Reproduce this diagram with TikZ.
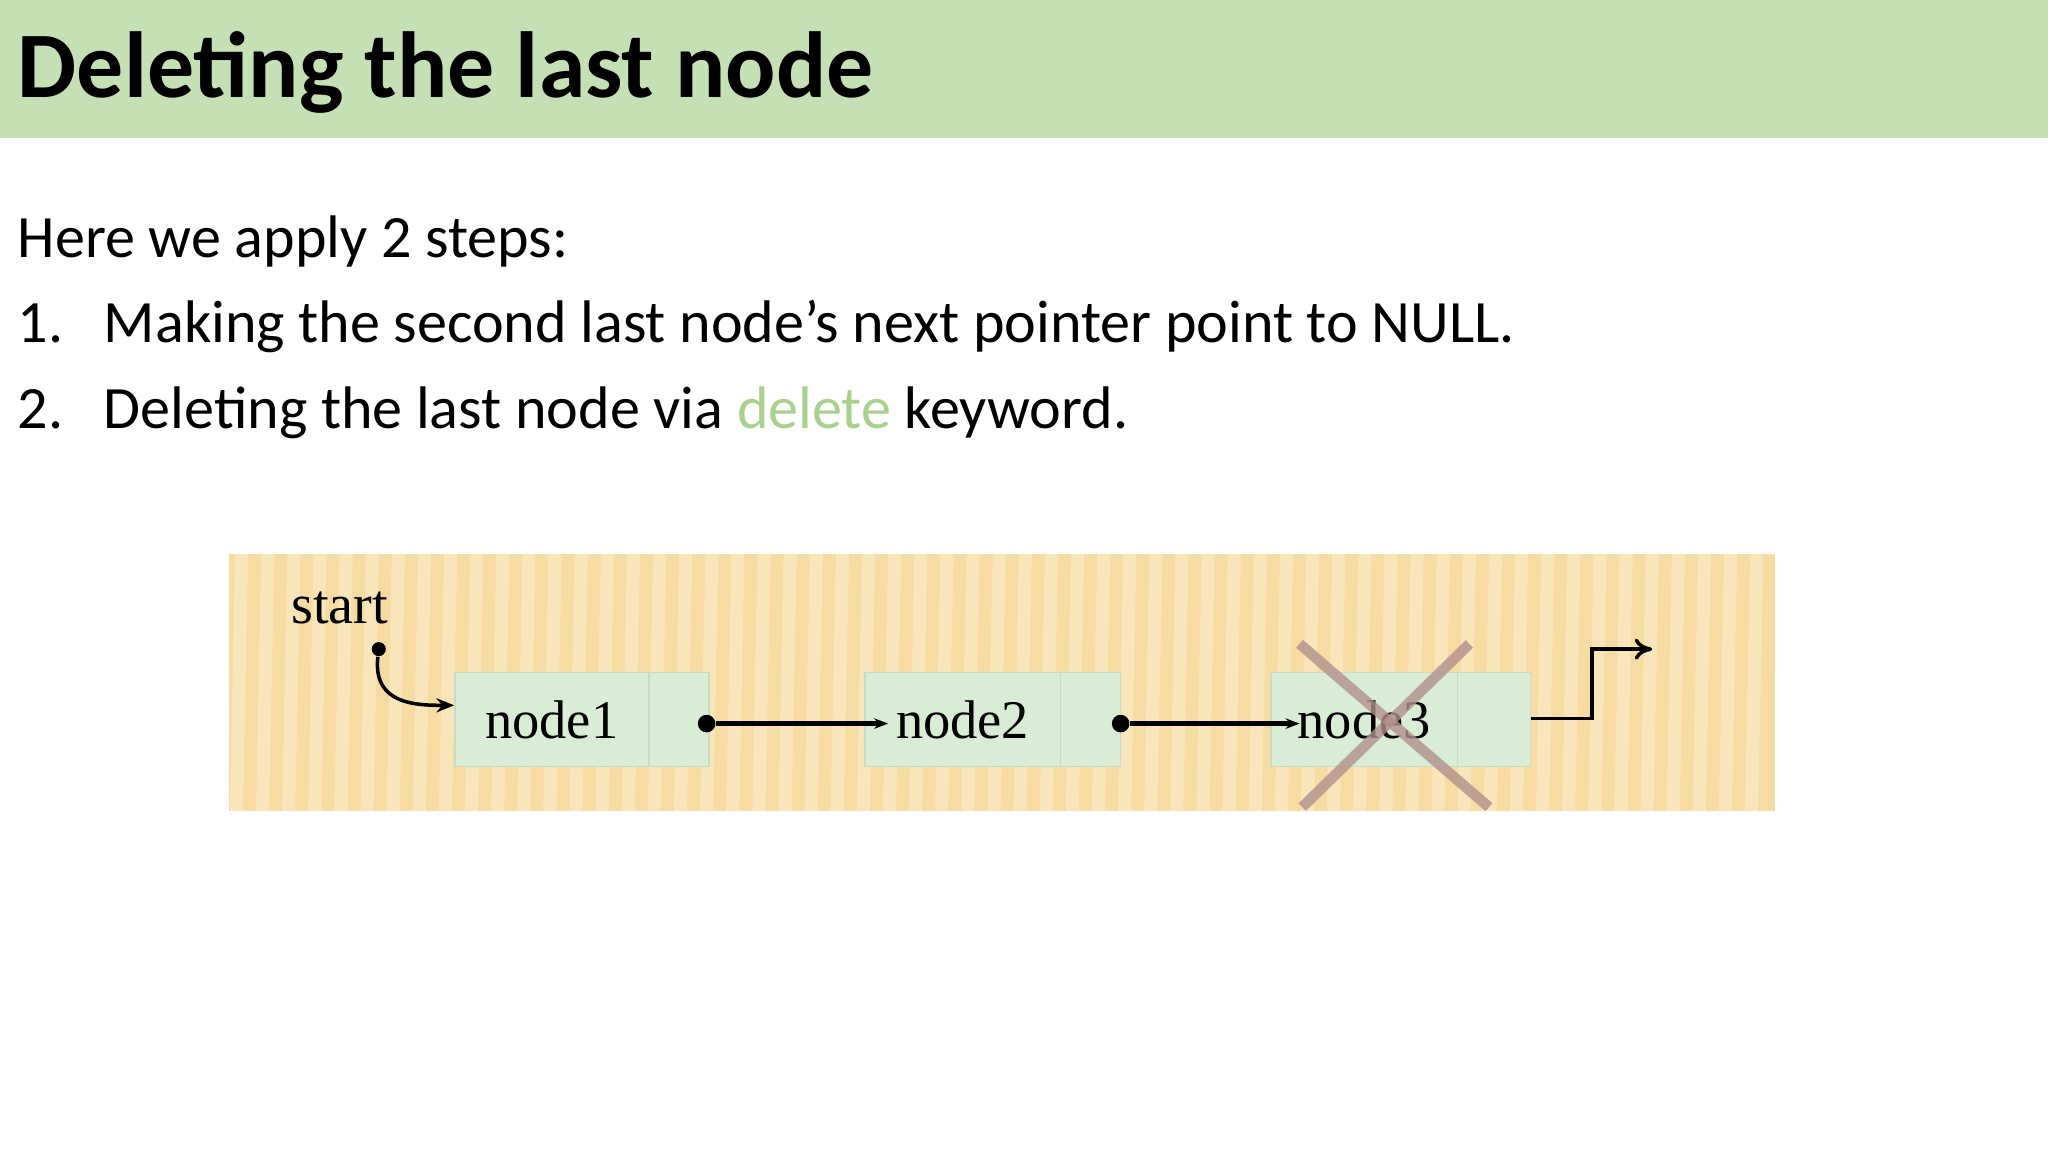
\documentclass[tikz,border=0pt]{standalone}
\usepackage{fontspec}
\setmainfont{Carlito}
\newfontfamily\serifnode{Liberation Serif}
\usetikzlibrary{arrows.meta}
\definecolor{hdr}{HTML}{C5E0B4}
\definecolor{kw}{HTML}{A9D18E}
\definecolor{bg}{HTML}{F6DCA3}
\definecolor{stripe}{HTML}{FBEAC4}
\definecolor{cell}{HTML}{D9ECD5}
\definecolor{cellline}{HTML}{C9DCC0}
\definecolor{cross}{HTML}{B0908C}
\tikzset{
  txt/.style={anchor=base west,inner sep=0pt,font=\fontsize{17.1}{21}\selectfont},
  datacell/.style={draw=cellline,fill=cell,minimum height=72*0.3706pt,inner sep=0pt,
    font=\serifnode\fontsize{15.5}{17}\selectfont},
  link/.style={line width=1.3pt,-{Stealth[length=4pt,width=3pt]}},
  dot/.style={circle,fill=black,inner sep=0pt,minimum size=5pt}
}
\begin{document}
\begin{tikzpicture}[x=0.01306cm,y=-0.01306cm]
\useasboundingbox (0,0) rectangle (1568,882);
\fill[white] (0,0) rectangle (1568,882);
\fill[hdr] (0,0) rectangle (1568,106);
\node[anchor=base west,inner sep=0pt,font=\bfseries\fontsize{26.7}{32}\selectfont] (title) at (13,75) {Deleting the last node};
\node[txt] (l0) at (13,197) {Here we apply 2 steps:};
\node[txt] (n1) at (13,262) {1.};
\node[txt] (l1) at (79,262) {Making the second last node’s next pointer point to NULL.};
\node[txt] (n2) at (13,328) {2.};
\node[txt] (l2) at (79,328) {Deleting the last node via \textcolor{kw}{delete} keyword.};
% image
\fill[bg] (175,424) rectangle (1359,621);
\foreach \i in {0,...,58} {
  \fill[stripe,opacity=0.7] (180+\i*20,424) -- (190+\i*20,424) -- (186+\i*20,621) -- (176+\i*20,621) -- cycle;
}
\node[datacell,minimum width=149*0.3706pt] (d1) at (422.5,551) {node1};
\node[datacell,minimum width=46*0.3706pt] (p1) at (520,551) {};
\node[datacell,minimum width=150*0.3706pt] (d2) at (737,551) {node2};
\node[datacell,minimum width=46*0.3706pt] (p2) at (835,551) {};
\node[datacell,minimum width=143*0.3706pt] (d3) at (1044.5,551) {node3};
\node[datacell,minimum width=56*0.3706pt] (p3) at (1144,551) {};
\node[anchor=base,inner sep=0pt,font=\serifnode\fontsize{16}{18}\selectfont] (start) at (260,477) {start};
\node[dot,minimum size=4pt] (sd) at (290,497) {};
\node[dot] (dd1) at (541,554) {};
\node[dot] (dd2) at (858,554) {};
\coordinate (e1) at (680,554);
\coordinate (e2) at (995,554);
\draw[link] (dd1) -- (e1);
\draw[link] (dd2) -- (e2);
\draw[line width=1pt,-{Stealth[length=5pt,width=4pt]}] (sd) .. controls (285,540) and (320,540) .. (d1.west |- 0,540);
\coordinate (k1) at (1219,550);
\coordinate (k2) at (1219,497);
\coordinate (nul) at (1265,497);
\draw[line width=1pt,-{To[length=5pt,width=6pt]}] (p3.east |- k1) -- (k1) -- (k2) -- (nul);
\draw[cross,line width=3pt,opacity=0.8] (995,493) -- (1140,618);
\draw[cross,line width=3pt,opacity=0.8] (1125,493) -- (997,618);
\end{tikzpicture}
\end{document}
